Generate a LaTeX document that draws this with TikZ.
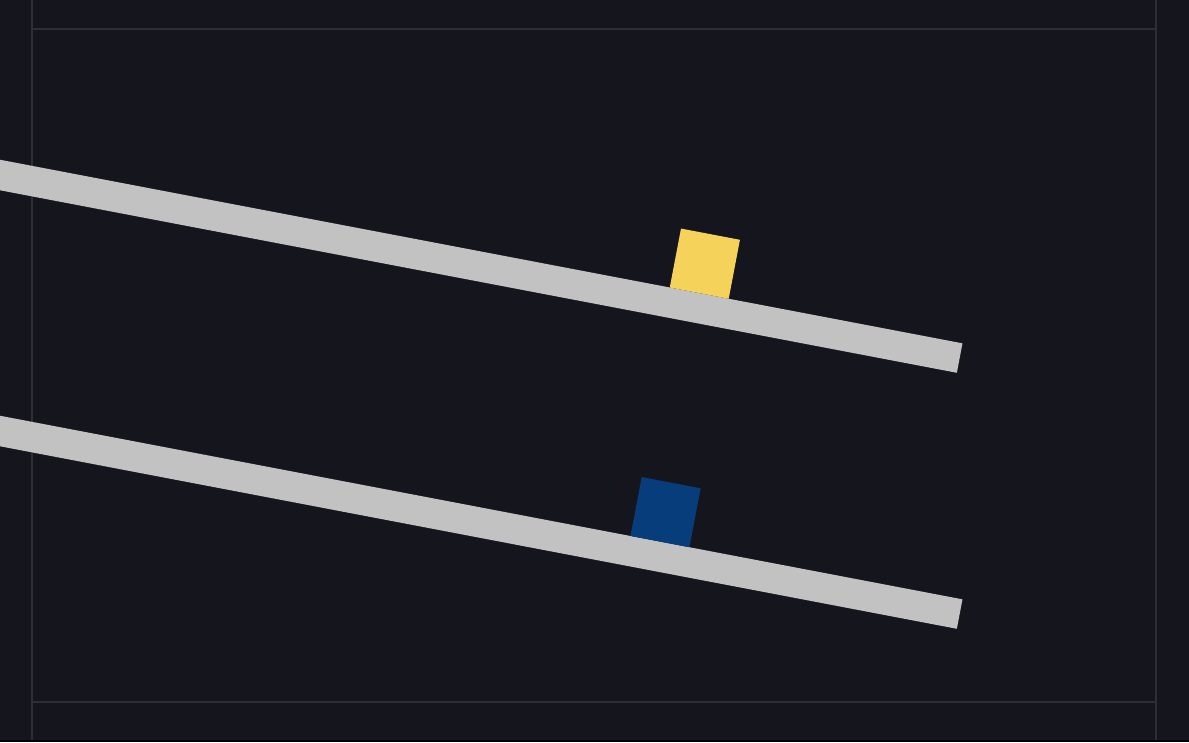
\documentclass[tikz,border=0pt]{standalone}
\usepackage{tikz}
\definecolor{InclineBack}{HTML}{15151E}
\definecolor{InclineGrid}{HTML}{2E2E36}
\definecolor{InclineRamp}{HTML}{C2C2C2}
\definecolor{InclineGold}{HTML}{F5D259}
\definecolor{InclineNavy}{HTML}{073D7A}

\begin{document}
\begin{tikzpicture}[x=1pt,y=-1pt,
    ramp/.style={fill=InclineRamp},
    gridline/.style={draw=InclineGrid,line width=1.6pt}]
      \useasboundingbox (0,0) rectangle (1189,742);
      \clip (0,0) rectangle (1189,742);
      \fill[InclineBack] (0,0) rectangle (1189,742);
      \draw[gridline] (32,0) -- (32,742);
      \draw[gridline] (1156,0) -- (1156,742);
      \draw[gridline] (32,29) -- (1156,29);
      \draw[gridline] (32,702) -- (1156,702);
      \fill[black] (0,740) rectangle (1189,742);
      % upper ramp with the gold block
      \begin{scope}[shift={(0,175)},rotate=-10.8]
        \fill[ramp] (-30,-15) rectangle (977,15);
        \fill[InclineGold] (679,-15) rectangle (739,-75);
      \end{scope}
      % lower ramp with the navy block
      \begin{scope}[shift={(0,431)},rotate=-10.8]
        \fill[ramp] (-30,-15) rectangle (977,15);
        \fill[InclineNavy] (639,-15) rectangle (699,-75);
      \end{scope}
    \end{tikzpicture}
\end{document}
